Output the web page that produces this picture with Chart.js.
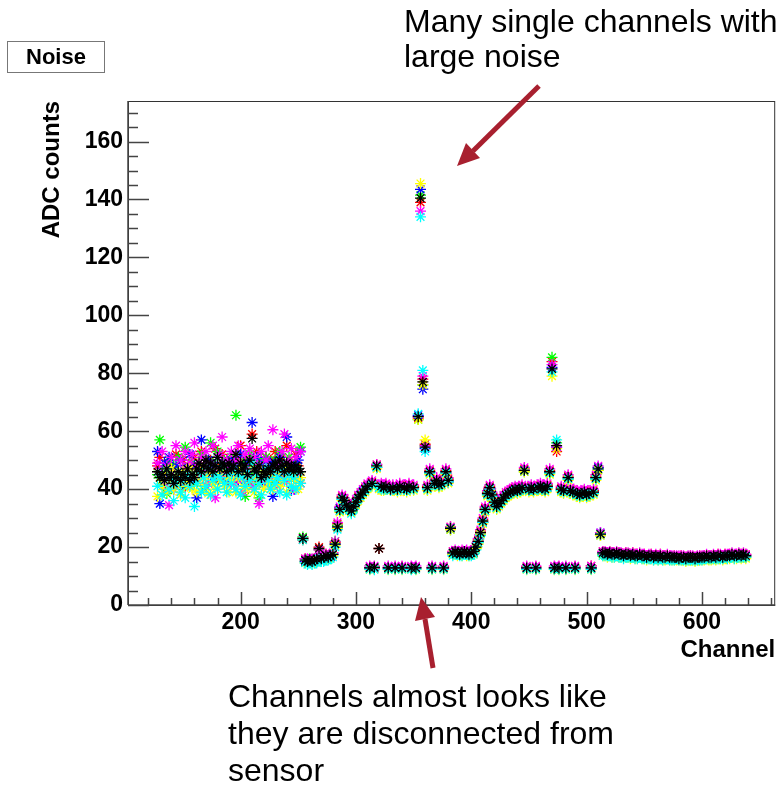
<!DOCTYPE html>
<html>
<head>
<meta charset="utf-8">
<script src="https://cdn.jsdelivr.net/npm/chart.js@4/dist/chart.umd.min.js"></script>
<style>
  html, body { margin: 0; padding: 0; background: #fff; }
  #wrap { position: relative; width: 782px; height: 788px; overflow: hidden; }
  #chart { position: absolute; left: 0; top: 0; }
  .note { position: absolute; font-family: 'Liberation Sans', Arial, sans-serif; font-size: 32px; color: #000; white-space: nowrap; }
  #noteTop { left: 404px; top: 4px; line-height: 35px; }
  #noteBottom { left: 228px; top: 678px; line-height: 37px; }
  #noiseBox { position: absolute; left: 7px; top: 41px; width: 96px; height: 30px; border: 1px solid #777;
              font: bold 22px 'Liberation Sans', Arial, sans-serif; line-height: 30px; text-align: center; color: #000; }
  svg { position: absolute; left: 0; top: 0; pointer-events: none; }
</style>
</head>
<body>
<div id="wrap">
  <canvas id="chart" width="782" height="788"></canvas>
  <div id="noiseBox">Noise</div>
  <div class="note" id="noteTop">Many single channels with<br>large noise</div>
  <div class="note" id="noteBottom">Channels almost looks like<br>they are disconnected from<br>sensor</div>
  <svg width="782" height="788">
    <g stroke="#a8202f" stroke-width="5" fill="#a8202f">
      <line x1="539" y1="86" x2="473" y2="151" />
      <polygon points="457,166 480,158 466,143" stroke="none" />
      <line x1="433" y1="668" x2="425" y2="619" />
      <polygon points="421,597 435,617 415,621" stroke="none" />
    </g>
  </svg>
</div>
<script>
// channels are read every 2nd strip, 128..638
const firstChannel = 128;
const channelStep = 2;

// noise per channel, one array per run (ROOT colours 1..7)
const noiseBlack = [
  46,44,45,43,47,44,45,42,44,46,43,45,44,47,43,45,
  44,47,49,46,48,50,47,49,46,48,51,47,49,48,46,49,
  47,48,52,46,49,47,48,45,50,57.5,47,46,48,44,46,45,
  47,46,48,49,47,50,48,46,49,47,48,46,48,47,46,23,
  15.5,15,15.5,15,15.5,16,19.5,16,16.5,17,16.5,17,17.5,21,27,33,
  37,36,34.5,33.5,32.5,34,35.5,37,38,39,40,41,12.8,42,13,48,
  19.5,41,40.5,41,12.8,40,40.5,12.8,40,41,12.8,40.5,40,41,12.8,40.5,
  12.8,65,140.5,77,54.5,40.5,46,12.8,42,43,41.5,42,12.8,46,43,26.5,
  18,18.5,18,17.5,18,18.5,18,17.5,18,18.5,20,22,25,29,33,38.5,
  40.5,38,35.5,34,35,36,37,38,38.5,39,39.5,40,39.5,40,40.5,46.5,
  12.8,40,40.5,40,12.8,40.5,41,40.5,40,41,46,81.5,12.8,55,12.8,40,
  39.5,12.8,44,39.5,39,12.8,38.5,38,38.5,39,38,38.5,12.8,39,44,47,
  24.5,18,18,17.5,18,17.5,17.5,18,17.5,17.5,17,17.5,17.5,17,17.5,17,
  17,17.5,17,17,16.5,17,17,16.5,17,16.5,17,16.5,16.5,17,16.5,16.5,
  16.5,16.5,16,16.5,16.5,16,16.5,16.5,16.5,16,16.5,16.5,16.5,16.5,17,16.5,
  16.5,17,16.5,17,17,16.5,17,17,17,17.5,17,17,17.5,17,17.5,17
];
const noiseRed = [
  48,51,43,46,40,49,44,47,52,42,45,50,41,47,44,49,
  51,43,47,53,45,49,42,50,46,54,44,48,52,45,50,47,
  43,51,46,49,55,44,50,47,42,59,48,53,45,49,43,51,
  46,50,44,53,48,42,51,47,55,44,49,46,52,48,42,23,
  16,15.5,15,15.5,16,15.5,20,16.5,16,17.5,17,16.5,18,21.5,28,33.5,
  37.5,36.5,35,33,33,34.5,36,37.5,38.5,39.5,40.5,41.5,13,42.5,12.5,48.5,
  19.5,41.5,41,41.5,13,40.5,41,13,40.5,41.5,13.2,41,40.5,41.5,13,41,
  13,64.5,139,78,55.5,41,46.5,13,42.5,43.5,42,42.5,13.2,46.5,43.5,27,
  18.5,18,18.5,18,18.5,18,18.5,18,18.5,18,20.5,22.5,25.5,29.5,33.5,39,
  41,38.5,36,34.5,35.5,36.5,37.5,38.5,39,39.5,40,40.5,40,40.5,41,47,
  13.2,40.5,41,40.5,13.2,41,41.5,41,40.5,41.5,46.5,84,13,53,13.2,40.5,
  40,13,44.5,40,39.5,13.2,39,38.5,39,39.5,38.5,39,13.5,39.5,44.5,47.5,
  24.5,18.5,18,18,18.5,18,17.5,18,18,17.5,17.5,18,17.5,17.5,18,17.5,
  17.5,17.5,17,17.5,17,17,17.5,17,17,17,17.5,17,17,17,17,16.5,
  17,16.5,16.5,17,16.5,16.5,16.5,17,16.5,16.5,16.5,17,16.5,17,17,17,
  17,17,17,17.5,17,17,17.5,17,17.5,17.5,17,17.5,17.5,17.5,17.5,17.5
];
const noiseGreen = [
  45,57,42,47,38.5,50,44,48,43,51,46,41,54.5,47,44,49,
  42,48,45,52,40,47,50,56,49,43,53,47,45,50,44,48,
  51,43,65.5,47,44,49,37.5,46,52,45,48,42,37,50,46,51,
  44,48,42,50,46,53,43,49,45,51,47,44,49,46,54.5,23.5,
  15,15.5,16,15,15.5,15.5,19,16,16.5,16.5,17,17,17.5,22,27.5,32.5,
  36.5,35.5,34,34,32,33.5,35,36.5,38,39,39.5,40.5,12.5,41.5,13.2,47.5,
  41,40.5,40,40.5,12.5,40.5,40,12.5,39.5,40.5,12.5,40,40.5,40.5,12.5,40,
  12.5,64,141.5,76,55,40,45.5,12.5,41.5,42.5,41,41.5,12.5,45.5,42.5,26,
  17.5,18,18.5,18,17.5,18,18.5,18,17.5,18,19.5,21.5,24.5,28.5,32.5,38,
  40,37.5,35,33.5,34.5,35.5,36.5,37.5,38,38.5,39,39.5,39,39.5,40,46,
  12.5,39.5,40,39.5,12.5,40,40.5,40,39.5,40.5,45.5,85.5,12.5,56,12.5,39.5,
  39,12.5,43.5,39,38.5,12.5,38,37.5,38,38.5,37.5,38,12.5,38.5,43.5,46.5,
  24,17.5,17.5,17,17.5,17,17,17.5,17,17,16.5,17,17,16.5,17,16.5,
  16.5,17,16.5,16.5,16,16.5,16.5,16,16.5,16,16.5,16,16,16.5,16,16,
  16,16,16,16,16,15.5,16,16,16,15.5,16,16,16,16,16.5,16,
  16,16.5,16,16.5,16.5,16,16.5,16.5,16.5,17,16.5,16.5,17,16.5,17,16.5
];
const noiseBlue = [
  53,35,46,49,43,51,45,40,48,44,50,42,47,45,52,43,
  48,37,44,57,46,41,50,45,48,43,51,46,44,49,42,47,
  50,45,48,43,52,46,41,49,44,63,47,51,44,48,42,50,
  46,49,37.5,48,45,51,44,48,58,45,39.5,48,44,50,53,22.5,
  15,15,15.5,15,15,15.5,16,15.5,16,16.5,16.5,16.5,17.5,21,26.5,33.5,
  37,36,34.5,33.5,33,34,35.5,37,38,39.5,40,41,12.8,42,12.8,47.5,
  40.5,41,40.5,40.5,12.8,40,40.5,12.8,40,40.5,12.8,40.5,40,40.5,12.8,40.5,
  12.8,65.5,143.5,74.5,54,40.5,46,12.8,42,42.5,41.5,42,12.8,46,42.5,26.5,
  18,18,17.5,18,18,18,17.5,18,18,18.5,20,22,25,28.5,33,38.5,
  40.5,38,35.5,34,35,36,37,38,38.5,39,39.5,40,39.5,40,40.5,46.5,
  12.8,40,40.5,40,12.8,40.5,40.5,40.5,40,40.5,46,82,12.8,54.5,12.8,40,
  39.5,12.8,44,39.5,39,12.8,38.5,38,38.5,38.5,38,38.5,12.8,39,44,47.5,
  25,18,17.5,17.5,18,17.5,17.5,17.5,17.5,17,17,17.5,17,17,17.5,17,
  17,17,17,16.5,16.5,17,16.5,16.5,16.5,16.5,17,16.5,16.5,16.5,16.5,16.5,
  16.5,16,16,16.5,16,16,16.5,16,16,16,16.5,16.5,16,16.5,16.5,16.5,
  16.5,16.5,16.5,17,16.5,16.5,17,16.5,17,17,16.5,17,17,17,17,17
];
const noiseYellow = [
  37.5,44,41,46,39,43,47,40,45,42,38,46,43,41,47,40,
  45,39,43,47,41,44,38.5,46,42,40,45,43,47,41,44,39,
  43,46,39,44,47,41,45,40,43,48,39,44,42,46,40,45,
  42,45,40,44,46,41,43,47,39,44,41,45,43,40,44,22.5,
  14.5,14.5,15,14.5,14.5,15,15.5,15,15.5,16,16,16,17,20.5,26.5,32,
  36,35,33.5,32.5,32,33,34.5,36,37,38,39,40,12.2,41,12.3,47,
  40,39.5,39.5,40,12.2,39.5,39.5,12.2,39,40,12.2,39.5,39,40,12.3,39.5,
  12.2,64,145.5,76,57,39.5,45,12.2,41,42,40.5,41,12.2,45,42,26,
  17.5,17.5,17,17.5,17,17.5,17,17,17.5,17.5,19.5,21,24.5,28,32,37.5,
  39.5,37,34.5,33,34,35,36,37,37.5,38,38.5,39,38.5,39,39.5,46,
  12.2,39,39.5,39,12.2,39.5,40,39.5,39,40,45,79,12.2,54,12.2,39,
  38.5,12.2,43,38.5,38,12.2,37.5,37,37.5,38,37,37.5,12.2,38,43,46.5,
  24,17,17,16.5,17,16.5,16.5,17,16.5,16.5,16.5,16.5,16.5,16,16.5,16,
  16,16.5,16,16,15.5,16,16,15.5,16,15.5,16,15.5,15.5,16,15.5,15.5,
  15.5,15.5,15.5,15.5,15.5,15,15.5,15.5,15.5,15,15.5,15.5,15.5,15.5,16,15.5,
  15.5,16,15.5,16,16,15.5,16,16,16,16.5,16,16,16.5,16,16.5,16
];
const noiseMagenta = [
  49,46,53,42,48,34.5,51,45,55,43,50,47,53,44,49,52,
  56,48,44,51,47,53,42,49,55,37,46,52,58,45,50,48,
  53,42,50,55,44,39,52,47,54,41,51,48,35,53,43,50,
  55,44,60.5,46,41,49,53,59,43,50,54,40,51,45,53,23,
  16,16,15.5,16,16,16,19,16.5,17,17.5,17,17.5,18,22,28.5,34,
  38,37,35,34,33.5,35,36.5,38,39,40,41,42,13.5,43,13.5,48.5,
  41.5,42,41.5,42,13.5,41,41.5,13.5,41,42,13.5,41.5,41,42,13.5,41.5,
  13.5,65,136,79,55,41.5,47,13.5,43,44,42.5,43,13.5,47,44,27,
  18.5,19,18.5,18.5,19,18.5,19,18.5,18.5,19,20.5,23,26,30,34,39.5,
  41.5,39,36.5,35,36,37,38,39,39.5,40,40.5,41,40.5,41,41.5,47.5,
  13.5,41,41.5,41,13.5,41.5,42,41.5,41,42,47,83,13.5,54.5,13.5,41,
  40.5,13.5,45,40.5,40,13.5,39.5,39,39.5,40,39,39.5,13.5,40,45,48,
  25,18.5,18.5,18,18.5,18,18,18.5,18,18,17.5,18,18,17.5,18,17.5,
  17.5,18,17.5,17.5,17,17.5,17.5,17,17.5,17,17.5,17,17,17.5,17,17,
  17,17,17,17,17,16.5,17,17,17,16.5,17,17,17,17,17.5,17,
  17,17.5,17,17.5,17.5,17,17.5,17.5,17.5,18,17.5,17.5,18,17.5,18,17.5
];
const noiseCyan = [
  41,45,38,43,47,40,44,36,42,46,39,43,37,45,41,44,
  34,42,46,39,44,41,47,38,43,45,40,44,48,42,39,45,
  42,47,40,45,38,44,41,46,43,49,40,45,42,38,44,47,
  43,40,46,42,44,39,47,43,38,45,41,44,40,46,42,22.5,
  14.5,14,14.5,14,14.5,14.5,16,15,15,15.5,15.5,16,16.5,20,26,32.5,
  36.5,35,33.5,33,31.5,33,35,36.5,37.5,38.5,39.5,40.5,12.3,41.5,12.2,47.5,
  40.5,40,40,40,12.3,39.5,40,12.3,39.5,40,12.3,40,39.5,40,12.2,40,
  12.3,66,134,81,53,40,45.5,12.3,41.5,42,41,41.5,12.3,45.5,42.5,26.5,
  17,17.5,17.5,17,17,17.5,17.5,17,17,17.5,19,21.5,24,28.5,32.5,38,
  40,37.5,35,33.5,34.5,35.5,36.5,37.5,38,38.5,39,39.5,39,39.5,40,46.5,
  12.3,39.5,40,39.5,12.3,40,40.5,40,39.5,40.5,45.5,80.5,12.3,57,12.3,39.5,
  39,12.3,43.5,39,38.5,12.3,38,37.5,38,38.5,37.5,38,12.3,38.5,43.5,47,
  24.5,17,17,17,17,16.5,16.5,17,16.5,16.5,16,16.5,16.5,16.5,16.5,16,
  16,16.5,16,16,16,16,16,15.5,16,15.5,16,15.5,16,16,15.5,15.5,
  15.5,16,15.5,15.5,15.5,15.5,15.5,15.5,15.5,15.5,15.5,15.5,15.5,16,16,16,
  16,16,16,16,16,16,16.5,16,16.5,16.5,16,16.5,16.5,16.5,16.5,16.5
];

const xTicks = [200, 300, 400, 500, 600];
const yTicks = [0, 20, 40, 60, 80, 100, 120, 140, 160];

const FONT = "'Liberation Sans', Arial, Helvetica, sans-serif";

// first entry is painted last (on top): black over cyan/yellow over the rest
const runs = [
  { color: '#000000', values: noiseBlack },
  { color: '#00ffff', values: noiseCyan },
  { color: '#ffff00', values: noiseYellow },
  { color: '#ff00ff', values: noiseMagenta },
  { color: '#0000ff', values: noiseBlue },
  { color: '#00ff00', values: noiseGreen },
  { color: '#ff0000', values: noiseRed },
];

// ROOT style frame: ticks drawn inward, small ones in between
const rootFrame = {
  id: 'rootFrame',
  afterDatasetsDraw(chart) {
    const { ctx, chartArea: a, scales: { x, y } } = chart;
    ctx.save();
    ctx.strokeStyle = '#333';
    ctx.lineWidth = 1;
    ctx.strokeRect(a.left + 0.5, a.top + 0.5, a.right - a.left - 1, a.bottom - a.top);
    ctx.lineWidth = 1.5;
    ctx.strokeStyle = '#444';
    ctx.beginPath();
    ctx.moveTo(a.left, a.top); ctx.lineTo(a.left, a.bottom);
    ctx.moveTo(a.left, a.bottom); ctx.lineTo(a.right, a.bottom);
    for (let v = 0; v <= y.max; v += 5) {
      const py = Math.round(y.getPixelForValue(v)) + 0.5;
      const len = yTicks.includes(v) ? 21 : 10;
      ctx.moveTo(a.left, py); ctx.lineTo(a.left + len, py);
    }
    for (let v = 120; v <= x.max; v += 20) {
      const px = Math.round(x.getPixelForValue(v)) + 0.5;
      const len = xTicks.includes(v) ? 13 : 7;
      ctx.moveTo(px, a.bottom); ctx.lineTo(px, a.bottom - len);
    }
    ctx.stroke();
    ctx.restore();
  }
};

const channels = noiseBlack.map((_, i) => firstChannel + i * channelStep);

new Chart(document.getElementById('chart'), {
  type: 'scatter',
  data: {
    datasets: runs.map((r) => ({
      data: r.values.map((v, i) => ({ x: channels[i], y: v })),
      pointStyle: 'star',
      pointRadius: 5.5,
      borderWidth: 1.3,
      borderColor: r.color,
      backgroundColor: r.color,
      showLine: false,
    })),
  },
  options: {
    responsive: false,
    animation: false,
    events: [],
    layout: { padding: { left: 38, top: 101, right: 6, bottom: 123 } },
    plugins: { legend: { display: false }, tooltip: { enabled: false } },
    scales: {
      x: {
        type: 'linear',
        min: 102.4,
        max: 663.5,
        grid: { display: false, drawTicks: false },
        border: { display: false },
        afterBuildTicks: (s) => { s.ticks = xTicks.map((v) => ({ value: v })); },
        afterFit: (s) => { s.height = 60; },
        ticks: { color: '#000', padding: 4, maxRotation: 0, autoSkip: false,
                 font: { family: FONT, weight: 'bold', size: 23 } },
        title: { display: true, text: 'Channel', align: 'end', color: '#000', padding: 0,
                 font: { family: FONT, weight: 'bold', size: 24 } },
      },
      y: {
        min: 0,
        max: 174,
        grid: { display: false, drawTicks: false },
        border: { display: false },
        afterBuildTicks: (s) => { s.ticks = yTicks.map((v) => ({ value: v })); },
        afterFit: (s) => { s.width = 90; },
        ticks: { color: '#000', padding: 5, autoSkip: false,
                 font: { family: FONT, weight: 'bold', size: 23 } },
        title: { display: true, text: 'ADC counts', align: 'end', color: '#000', padding: 0,
                 font: { family: FONT, weight: 'bold', size: 24 } },
      },
    },
  },
  plugins: [rootFrame],
});
</script>
</body>
</html>
